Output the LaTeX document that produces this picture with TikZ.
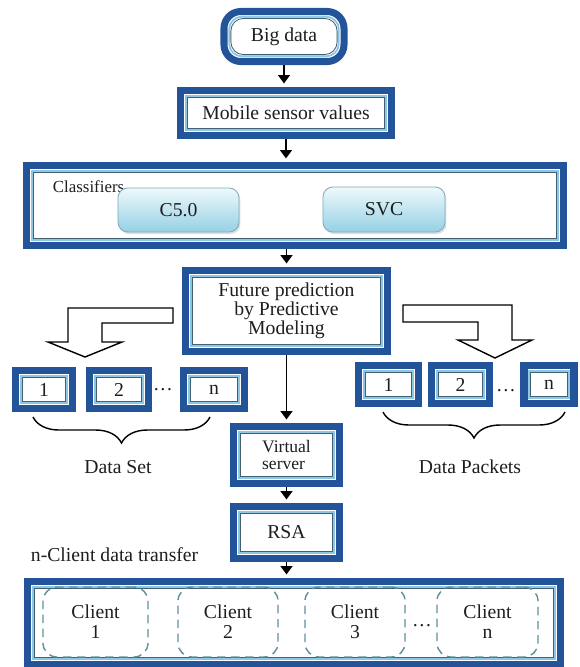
\documentclass[tikz,border=0pt]{standalone}
\usepackage{xcolor}
\usepackage{fontspec}
\setmainfont{Liberation Serif}
\usepackage{tikz}
\usetikzlibrary{arrows.meta, positioning, calc, shadows, decorations.pathreplacing}
\definecolor{boxblue}{RGB}{35, 84, 154}
\definecolor{rimblue}{RGB}{140, 200, 230}
\definecolor{rimgray}{RGB}{70, 95, 110}
\definecolor{gradtop}{RGB}{238, 249, 252}
\definecolor{gradbot}{RGB}{150, 208, 228}
\definecolor{gradedge}{RGB}{130, 170, 185}
\definecolor{dashteal}{RGB}{95, 145, 155}
\definecolor{inktext}{RGB}{30, 30, 30}

\tikzset{
  dblbox/.style={draw=boxblue, line width=5pt, fill=white, inner sep=2pt, align=center,
    text=inktext, font=\fontsize{14}{13.5}\selectfont,
    path picture={
      \draw[rimblue, line width=1.3pt, rounded corners=#1]
        ([shift={(3.7pt,-3.7pt)}]path picture bounding box.north west) rectangle
        ([shift={(-3.7pt,3.7pt)}]path picture bounding box.south east);
      \draw[rimgray, line width=0.6pt, rounded corners=#1]
        ([shift={(4.9pt,-4.9pt)}]path picture bounding box.north west) rectangle
        ([shift={(-4.9pt,4.9pt)}]path picture bounding box.south east);
    }},
  dblbox/.default=0pt,
  gradbox/.style={draw=gradedge, line width=0.6pt, rounded corners=7pt,
    top color=gradtop, bottom color=gradbot, text=inktext,
    font=\fontsize{14}{14}\selectfont,
    drop shadow={opacity=0.25, shadow xshift=1pt, shadow yshift=-1.5pt}},
  clientbox/.style={draw=dashteal, line width=1pt, dash pattern=on 6pt off 4pt,
    rounded corners=10pt, align=center, text=inktext, font=\fontsize{14}{14}\selectfont,
    minimum height=1.75cm},
  flow/.style={-{Triangle[length=6pt, width=8.5pt]}, line width=1.2pt, black, shorten >=2.5pt},
  hollow/.style={draw=black, line width=1pt, fill=white, line join=miter},
  setbrace/.style={decorate, decoration={brace, mirror, amplitude=0.65cm}, line width=1pt},
  plain/.style={text=inktext, font=\fontsize{14}{14}\selectfont}
}

\begin{document}
\begin{tikzpicture}[x=0.025cm, y=-0.025cm]
        \useasboundingbox (0,0) rectangle (580,667);

        % Top of the chain
        \node[dblbox=9pt, rounded corners=12pt, minimum width=3cm, minimum height=1.25cm] (big) at (284,36.5) {Big data};
        \node[dblbox, minimum width=5.275cm, minimum height=1.125cm] (sensor) at (286,113) {Mobile sensor values};

        % Classifiers
        \node[dblbox, minimum width=13.425cm, minimum height=2cm] (classif) at (295,205.5) {};
        \node[plain, font=\fontsize{12}{12}\selectfont, anchor=west] (classlbl) at (48,187) {Classifiers};
        \node[gradbox, minimum width=3.025cm, minimum height=1.1cm] (cfive) at (178.5,210) {C5.0};
        \node[gradbox, minimum width=3.05cm, minimum height=1.125cm] (svc) at (384,209.5) {SVC};

        % Prediction
        \node[dblbox, minimum width=5.05cm, minimum height=2.025cm] (future) at (286.5,311) {Future prediction\\by Predictive\\Modeling};

        % Data set
        \node[dblbox, minimum width=1.425cm, minimum height=0.95cm] (ds1) at (44,389.5) {1};
        \node[dblbox, minimum width=1.475cm, minimum height=0.95cm] (ds2) at (119,389.5) {2};
        \node[dblbox, minimum width=1.525cm, minimum height=0.95cm] (dsn) at (214,389.5) {n};
        \node[plain] (dsdots) at (163,390) {\dots};
        \draw[setbrace] (33,417) -- (210,417);
        \node[plain] (dslbl) at (118,467) {Data Set};

        % Data packets
        \node[dblbox, minimum width=1.5cm, minimum height=0.95cm] (dp1) at (388.5,384.5) {1};
        \node[dblbox, minimum width=1.45cm, minimum height=0.95cm] (dp2) at (460.5,384.5) {2};
        \node[dblbox, minimum width=1.25cm, minimum height=0.95cm] (dpn) at (549,384.5) {n};
        \node[plain] (dpdots) at (506,391) {\dots};
        \draw[setbrace] (383,412) -- (565,412);
        \node[plain] (dplbl) at (470,467) {Data Packets};

        % Hollow bent arrows
        \draw[hollow] (173,308) -- (68,308) -- (68,342) -- (48,342) -- (85,357) -- (122,342) -- (102,342) -- (102,323) -- (173,323) -- cycle;
        \draw[hollow] (403,305) -- (512,305) -- (512,340) -- (532,340) -- (495,358) -- (458,340) -- (478,340) -- (478,322) -- (403,322) -- cycle;

        % Server side
        \node[dblbox, font=\fontsize{12.5}{12.5}\selectfont, align=left, minimum width=2.65cm, minimum height=1.425cm] (server) at (286.5,455) {Virtual\\server};
        \node[dblbox, minimum width=2.65cm, minimum height=1.3cm] (rsa) at (286.5,532.5) {RSA};

        % Clients
        \node[plain, anchor=west] (xferlbl) at (26,555) {n-Client data transfer};
        \node[dblbox, minimum width=13.325cm, minimum height=2.075cm] (clients) at (294,623) {};
        \node[clientbox, minimum width=2.625cm] (cl1) at (95.5,622) {Client\\1};
        \node[clientbox, minimum width=2.5cm] (cl2) at (228,622) {Client\\2};
        \node[clientbox, minimum width=2.5cm] (cl3) at (355,622) {Client\\3};
        \node[clientbox, minimum width=2.525cm] (cln) at (487.5,622) {Client\\n};
        \node[plain] (cldots) at (422,626) {\dots};

        % Arrows
        \draw[flow] (big) -- (big.south |- sensor.north);
        \draw[flow] (sensor) -- (sensor.south |- classif.north);
        \draw[flow] (classif.south -| future.north) -- (future.north);
        \draw[flow] (future) -- (server);
        \draw[flow] (server) -- (rsa);
        \draw[flow] (rsa) -- (rsa.south |- clients.north);
    \end{tikzpicture}
\end{document}
